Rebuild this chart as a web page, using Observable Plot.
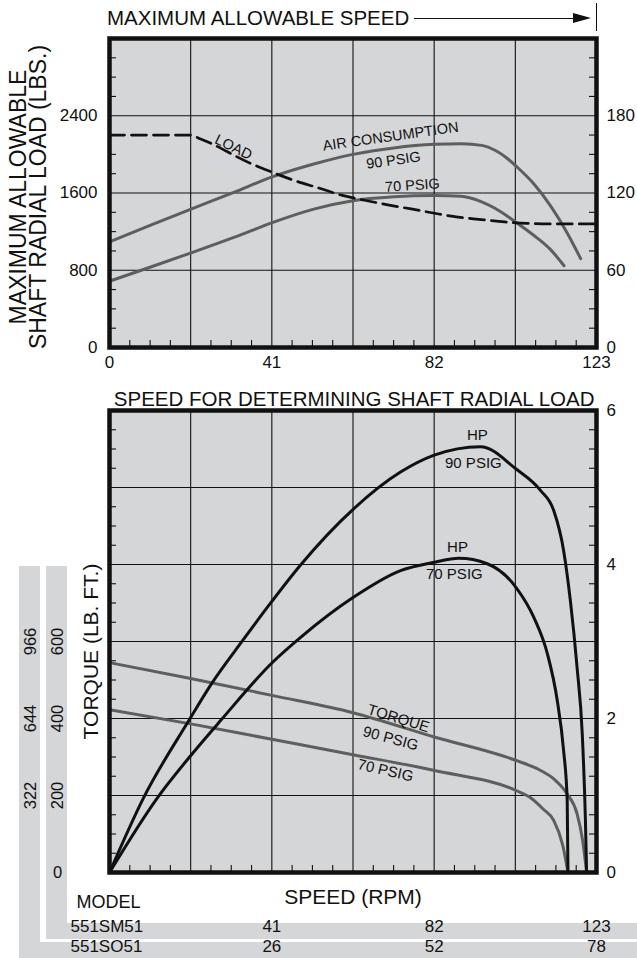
<!DOCTYPE html>
<html>
<head>
<meta charset="utf-8">
<script src="https://cdn.jsdelivr.net/npm/d3@7"></script>
<script src="https://cdn.jsdelivr.net/npm/@observablehq/plot@0.6"></script>
<style>
  html, body { margin: 0; padding: 0; background: #fff; }
  #root { position: relative; width: 637px; height: 958px; overflow: hidden; background: #fff;
          font-family: "Liberation Sans", Arial, Helvetica, sans-serif; color: #111; }
  .strip { position: absolute; background: #d5d6d8; }
  #topChart, #bottomChart { position: absolute; left: 0; }
  #topChart { top: 0; }
  #bottomChart { top: 370px; }
  #header { position: absolute; left: 107px; top: 6px; width: 484px; height: 24px;
            display: flex; align-items: center; font-size: 20.5px; white-space: nowrap; }
  #header .hline { flex: 1; height: 0; border-top: 1.4px solid #111; margin-left: 5px; }
  #header .harrow { width: 0; height: 0; border-left: 18px solid #111;
                    border-top: 5px solid transparent; border-bottom: 5px solid transparent; }
  #hbar { position: absolute; left: 596px; top: 3px; width: 1.4px; height: 28px; background: #111; }
</style>
</head>
<body>
<div id="root">
  <div class="strip" style="left:19px;top:566px;width:21px;height:392px;"></div>
  <div class="strip" style="left:19px;top:942px;width:618px;height:16px;"></div>
  <div class="strip" style="left:46px;top:566px;width:21px;height:373px;"></div>
  <div class="strip" style="left:46px;top:923px;width:591px;height:16px;"></div>
  <div id="header"><span>MAXIMUM ALLOWABLE SPEED</span><div class="hline"></div><div class="harrow"></div></div>
  <div id="hbar"></div>
  <div id="topChart"></div>
  <div id="bottomChart"></div>
</div>
<script>
// ---------- tick labels ----------
const speedTicksSM = [0, 41, 82, 123];      // 551SM51 speed (RPM)
const speedTicksSO = [26, 52, 78];          // 551SO51 speed (RPM)
const loadTicks = [0, 800, 1600, 2400];     // shaft radial load (lbs)
const airTicks = [0, 60, 120, 180];         // air consumption (right axis)
const hpTicks = [0, 2, 4, 6];               // horsepower (right axis)
const torqueTicks = [200, 400, 600];        // torque lb.ft
const torqueTicksAlt = [322, 644, 966];     // alternate torque labels

// ---------- top chart series ----------
const loadRpm = [0, 20.3, 23, 36, 41.7, 47, 52.6, 58.8, 64.4, 70.6, 76.2, 82.1, 88, 93.9, 99.8, 105.5, 111, 123];
const loadLbs = [2200, 2200, 2160, 1900, 1805, 1725, 1655, 1575, 1525, 1475, 1435, 1390, 1350, 1325, 1300, 1285, 1280, 1280];

const air90Rpm = [0, 10.4, 20.6, 31.4, 41.1, 51.6, 61.5, 71.8, 82.1, 89, 94, 97.5, 100, 103, 107.2, 111.4, 115.6, 119];
const air90 = [82, 95, 107.5, 120.5, 132.5, 142.5, 150, 155, 157.8, 158.3, 157, 153, 148, 140, 127, 110, 89, 69];

const air70Rpm = [0, 10.4, 20.6, 31.4, 41.1, 51.6, 61.5, 71.8, 82.1, 88.7, 93.7, 98.8, 103, 107.2, 111.4, 114.8];
const air70 = [51.5, 62.5, 73.5, 85.5, 97, 107.5, 114, 117, 118, 117.4, 113.5, 105.5, 96.5, 87, 76, 63.5];

// ---------- bottom chart series ----------
const hp90Rpm = [0, 8.6, 20, 25.5, 33.6, 41, 48.2, 61.6, 73.5, 82, 93.7, 102.7, 108.9, 112.2, 114.7, 116.4, 118.1, 119.4, 120.2, 120.5];
const hp90 = [0, 0.97, 1.97, 2.43, 3.01, 3.52, 3.99, 4.72, 5.20, 5.42, 5.53, 5.24, 4.96, 4.70, 4.18, 3.53, 2.66, 1.80, 0.68, 0];

const hp70Rpm = [0, 12.1, 20.7, 28, 41.2, 48.2, 61.5, 73.5, 82.1, 88.2, 95.4, 102.7, 107.2, 110.6, 113.1, 114.7, 115.6, 115.8];
const hp70 = [0, 0.97, 1.53, 1.97, 2.73, 3.05, 3.57, 3.92, 4.03, 4.08, 4.01, 3.70, 3.31, 2.84, 2.23, 1.58, 0.94, 0];

const tq90Rpm = [0, 20.5, 41, 61.5, 82, 102.7, 108.9, 112.2, 115.6, 118.1, 119.5, 120.5];
const tq90 = [545, 504, 460, 415, 352, 291, 265, 243, 204, 152, 83, 0];

const tq70Rpm = [0, 20.5, 41, 61.5, 82.1, 102.7, 106.1, 109.5, 112.2, 114.5, 115.8];
const tq70 = [423, 386, 346, 306, 265, 213, 196, 165, 135, 70, 0];

// ---------- styling ----------
const FONT = '"Liberation Sans", Arial, Helvetica, sans-serif';
const BG = "#d5d6d8";
const GRAY = "#5e5e5e";
const INK = "#111";

const SPEED_MAX = 123, LOAD_MAX = 3200, AIR_MAX = 240, TORQUE_MAX = 1200, HP_MAX = 6;
const airK = LOAD_MAX / AIR_MAX;       // right axis -> left axis
const hpK = TORQUE_MAX / HP_MAX;       // hp -> torque units

const zip = (xs, ys) => xs.map((x, i) => ({x, y: ys[i]}));

const xMajor = d3.range(1, 6).map(i => i * SPEED_MAX / 6);
const xMinor = d3.range(1, 24).filter(i => i % 4 !== 0).map(i => i * SPEED_MAX / 24);
const W = 637, ML = 109, MR = 41;
const plotW = W - ML - MR;

// ---------- top chart ----------
const topH = 380, topMT = 38, topMB = 33;
const topInnerH = topH - topMT - topMB;
const yMinorTop = d3.range(1, 16).filter(i => i % 4 !== 0).map(i => i * 200);

const topPlot = Plot.plot({
  width: W, height: topH,
  marginTop: topMT, marginBottom: topMB, marginLeft: ML, marginRight: MR,
  x: {domain: [0, SPEED_MAX]},
  y: {domain: [0, LOAD_MAX]},
  style: {background: "transparent", fontFamily: FONT, fontSize: "17px", color: INK, overflow: "visible"},
  marks: [
    Plot.frame({fill: BG}),
    Plot.gridX(xMajor, {stroke: INK, strokeOpacity: 1, strokeWidth: 1.1}),
    Plot.gridY([800, 1600, 2400], {stroke: INK, strokeOpacity: 1, strokeWidth: 1.1}),
    Plot.ruleY(yMinorTop, {y: d => d, insetRight: plotW - 7, stroke: INK, strokeWidth: 1.1}),
    Plot.ruleY(yMinorTop, {y: d => d, insetLeft: plotW - 7, stroke: INK, strokeWidth: 1.1}),
    Plot.ruleX(xMinor, {x: d => d, insetTop: topInnerH - 7, stroke: INK, strokeWidth: 1.1}),
    Plot.line(zip(air90Rpm, air90), {x: "x", y: d => d.y * airK, stroke: GRAY, strokeWidth: 3, curve: "monotone-x"}),
    Plot.line(zip(air70Rpm, air70), {x: "x", y: d => d.y * airK, stroke: GRAY, strokeWidth: 3, curve: "monotone-x"}),
    Plot.line(zip(loadRpm, loadLbs), {x: "x", y: "y", stroke: INK, strokeWidth: 2.7, strokeDasharray: "15,7", curve: "monotone-x"}),
    Plot.text(["LOAD"], {x: 31.3, y: 2074, rotate: 26, fontSize: 14.5}),
    Plot.text(["AIR CONSUMPTION"], {x: 71, y: 2185, rotate: -8, fontSize: 14.5}),
    Plot.text(["90 PSIG"], {x: 71.7, y: 1937, rotate: -8, fontSize: 14.5}),
    Plot.text(["70 PSIG"], {x: 76.5, y: 1678, rotate: -4, fontSize: 14.5}),
    Plot.frame({stroke: INK, strokeWidth: 4.5}),
    Plot.axisX({ticks: speedTicksSM, tickSize: 0, tickPadding: 8, label: null, fontSize: 17, tickFormat: d => String(d)}),
    Plot.axisY({anchor: "left", ticks: loadTicks, tickSize: 0, tickPadding: 12, label: null, fontSize: 17, tickFormat: d => String(d)}),
    Plot.axisY({anchor: "right", ticks: airTicks.map(v => v * airK), tickFormat: v => String(Math.round(v / airK)),
                tickSize: 0, tickPadding: 10, label: null, fontSize: 17}),
    Plot.text(["MAXIMUM ALLOWABLE\nSHAFT RADIAL LOAD (LBS.)"], {frameAnchor: "left", textAnchor: "middle", dx: -80, dy: 4,
                rotate: -90, fontSize: 23, lineHeight: 0.87})
  ]
});
document.getElementById("topChart").appendChild(topPlot);

// ---------- bottom chart ----------
const botH = 588, botMT = 40, botMB = 86;
const botInnerH = botH - botMT - botMB;
const yMinorBot = d3.range(1, 24).filter(i => i % 4 !== 0).map(i => i * 50);

const botPlot = Plot.plot({
  width: W, height: botH,
  marginTop: botMT, marginBottom: botMB, marginLeft: ML, marginRight: MR,
  x: {domain: [0, SPEED_MAX], axis: null},
  y: {domain: [0, TORQUE_MAX]},
  style: {background: "transparent", fontFamily: FONT, fontSize: "17px", color: INK, overflow: "visible"},
  marks: [
    Plot.frame({fill: BG}),
    Plot.gridX(xMajor, {stroke: INK, strokeOpacity: 1, strokeWidth: 1.1}),
    Plot.gridY([200, 400, 600, 800, 1000], {stroke: INK, strokeOpacity: 1, strokeWidth: 1.1}),
    Plot.ruleY(yMinorBot, {y: d => d, insetRight: plotW - 7, stroke: INK, strokeWidth: 1.1}),
    Plot.ruleY(yMinorBot, {y: d => d, insetLeft: plotW - 7, stroke: INK, strokeWidth: 1.1}),
    Plot.ruleX(xMinor, {x: d => d, insetTop: botInnerH - 7, stroke: INK, strokeWidth: 1.1}),
    Plot.line(zip(tq90Rpm, tq90), {x: "x", y: "y", stroke: GRAY, strokeWidth: 3, curve: "monotone-x"}),
    Plot.line(zip(tq70Rpm, tq70), {x: "x", y: "y", stroke: GRAY, strokeWidth: 3, curve: "monotone-x"}),
    Plot.line(zip(hp90Rpm, hp90), {x: "x", y: d => d.y * hpK, stroke: INK, strokeWidth: 3, curve: "monotone-x"}),
    Plot.line(zip(hp70Rpm, hp70), {x: "x", y: d => d.y * hpK, stroke: INK, strokeWidth: 3, curve: "monotone-x"}),
    Plot.text(["HP"], {x: 92.9, y: 1135, fontSize: 15}),
    Plot.text(["90 PSIG"], {x: 91.9, y: 1062, fontSize: 15}),
    Plot.text(["HP"], {x: 87.9, y: 844, fontSize: 15}),
    Plot.text(["70 PSIG"], {x: 87.1, y: 774, fontSize: 15}),
    Plot.text(["TORQUE"], {x: 73, y: 400, rotate: 17, fontSize: 15}),
    Plot.text(["90 PSIG"], {x: 71, y: 348, rotate: 15, fontSize: 15}),
    Plot.text(["70 PSIG"], {x: 69.7, y: 265, rotate: 13, fontSize: 15}),
    Plot.frame({stroke: INK, strokeWidth: 4.5}),
    Plot.axisY({anchor: "right", ticks: hpTicks.map(v => v * hpK), tickFormat: v => String(Math.round(v / hpK)),
                tickSize: 0, tickPadding: 10, label: null, fontSize: 17}),
    // left torque scales in the grey bands
    Plot.text(torqueTicks, {y: d => d, frameAnchor: "left", textAnchor: "middle", dx: -52, rotate: -90,
                text: d => String(d), fontSize: 16.5}),
    Plot.text([0], {y: d => d, frameAnchor: "left", textAnchor: "middle", dx: -52, text: d => String(d), fontSize: 16.5}),
    Plot.text(torqueTicks, {y: d => d, frameAnchor: "left", textAnchor: "middle", dx: -79, rotate: -90,
                text: (d, i) => String(torqueTicksAlt[i]), fontSize: 16.5}),
    Plot.text(["TORQUE (LB. FT.)"], {frameAnchor: "left", textAnchor: "middle", dx: -18, dy: 10, rotate: -90, fontSize: 21}),
    Plot.text(["SPEED FOR DETERMINING SHAFT RADIAL LOAD"], {frameAnchor: "top-right", textAnchor: "end",
                dx: -2, dy: -19, fontSize: 20.5}),
    Plot.text(["SPEED (RPM)"], {frameAnchor: "bottom", dy: 31, fontSize: 21}),
    Plot.text(["MODEL"], {frameAnchor: "bottom-left", textAnchor: "start", dx: -33, dy: 35, fontSize: 18}),
    Plot.text(["551SM51"], {frameAnchor: "bottom-left", textAnchor: "start", dx: -39, dy: 59, fontSize: 17}),
    Plot.text(["551SO51"], {frameAnchor: "bottom-left", textAnchor: "start", dx: -39, dy: 79, fontSize: 17}),
    Plot.text(speedTicksSM.slice(1), {x: d => d, frameAnchor: "bottom", dy: 59, text: d => String(d), fontSize: 17}),
    Plot.text(speedTicksSO, {x: d => d * SPEED_MAX / speedTicksSO[2], frameAnchor: "bottom", dy: 79,
                text: d => String(d), fontSize: 17})
  ]
});
document.getElementById("bottomChart").appendChild(botPlot);
</script>
</body>
</html>
